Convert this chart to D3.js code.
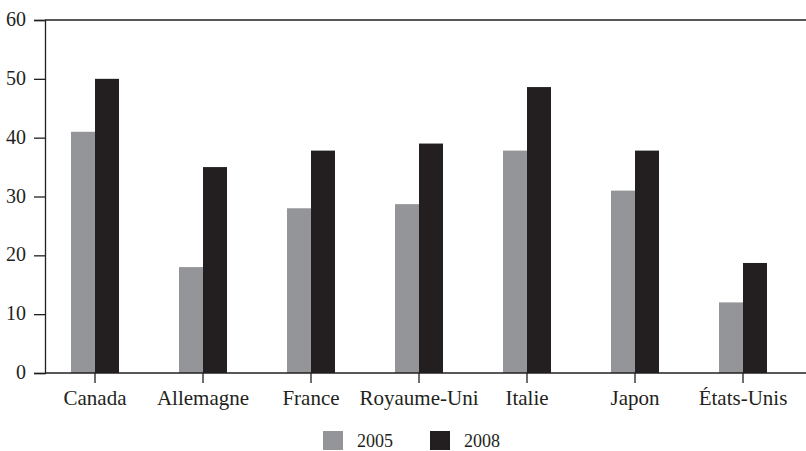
<!DOCTYPE html>
<html>
<head>
<meta charset="utf-8">
<script src="https://cdn.jsdelivr.net/npm/d3@7"></script>
<style>
    body { margin: 0; background: #fff; }
    text { font-family: "Liberation Serif", "DejaVu Serif", serif; fill: #231f20; }
</style>
</head>
<body>
<div id="chart"></div>
<script>
// Data
const countries = ['Canada', 'Allemagne', 'France', 'Royaume-Uni', 'Italie', 'Japon', 'États-Unis'];
const years = ['2005', '2008'];
const values2005 = [41, 18, 28, 28.7, 37.8, 31, 12];
const values2008 = [50, 35, 37.8, 39, 48.6, 37.8, 18.7];
const yTicks = [0, 10, 20, 30, 40, 50, 60];
const colors = ['#939598', '#231f20'];

const series = [values2005, values2008];

function draw() {
    // Dimensions
    let dimensions = {
        width: 806,
        height: 451,
        margin: { top: 20, bottom: 78, left: 45, right: 0 }
    };
    dimensions.ctrWidth = dimensions.width - dimensions.margin.left - dimensions.margin.right;
    dimensions.ctrHeight = dimensions.height - dimensions.margin.top - dimensions.margin.bottom;

    // Scales
    const xScale = d3.scaleBand()
        .domain(countries)
        .range([-4, 752]);

    const innerScale = d3.scaleBand()
        .domain(years)
        .range([xScale.bandwidth() / 2 - 24, xScale.bandwidth() / 2 + 24]);

    const yScale = d3.scaleLinear()
        .domain([0, 60])
        .range([dimensions.ctrHeight, 0]);

    const svg = d3.select('#chart')
        .append('svg')
        .attr('width', dimensions.width)
        .attr('height', dimensions.height);

    const ctr = svg.append('g')
        .attr('transform', `translate(${dimensions.margin.left},${dimensions.margin.top})`);

    // Bars
    const groups = ctr.selectAll('g.country')
        .data(countries)
        .join('g')
        .attr('class', 'country')
        .attr('transform', d => `translate(${xScale(d)},0)`);

    groups.selectAll('rect')
        .data((d, i) => years.map((y, j) => ({ year: y, value: series[j][i] })))
        .join('rect')
        .attr('x', d => innerScale(d.year))
        .attr('width', innerScale.bandwidth())
        .attr('y', d => yScale(d.value))
        .attr('height', d => dimensions.ctrHeight - yScale(d.value))
        .attr('fill', (d, j) => colors[j]);

    // Top frame line
    ctr.append('line')
        .attr('x1', 0)
        .attr('x2', dimensions.ctrWidth)
        .attr('y1', 0)
        .attr('y2', 0)
        .attr('stroke', '#231f20')
        .attr('stroke-width', 1.3);

    // Y axis
    const yAxis = d3.axisLeft(yScale)
        .tickValues(yTicks)
        .tickSize(11)
        .tickPadding(8);

    const yAxisGroup = ctr.append('g').call(yAxis);
    yAxisGroup.select('.domain').attr('stroke', '#231f20').attr('stroke-width', 1.3);
    yAxisGroup.selectAll('.tick line').attr('stroke', '#231f20').attr('stroke-width', 1.3);
    yAxisGroup.selectAll('.tick text')
        .attr('font-size', 20)
        .attr('font-family', '"Liberation Serif", serif')
        .attr('fill', '#231f20')
        .attr('dy', '0.28em');

    // X axis
    const xAxis = d3.axisBottom(xScale)
        .tickSize(10)
        .tickPadding(8)
        .tickSizeOuter(0);

    const xAxisGroup = ctr.append('g')
        .attr('transform', `translate(0,${dimensions.ctrHeight})`)
        .call(xAxis);
    xAxisGroup.select('.domain')
        .attr('d', `M0,0H${dimensions.ctrWidth}`)
        .attr('stroke', '#231f20')
        .attr('stroke-width', 1.3);
    xAxisGroup.selectAll('.tick line').attr('stroke', '#231f20').attr('stroke-width', 1.3);
    xAxisGroup.selectAll('.tick text')
        .attr('font-size', 21)
        .attr('font-family', '"Liberation Serif", serif')
        .attr('fill', '#231f20')
        .attr('dy', '0.66em');

    // Legend
    const legend = svg.append('g')
        .attr('transform', 'translate(323,431)');

    const legendItems = legend.selectAll('g')
        .data(years)
        .join('g')
        .attr('transform', (d, i) => `translate(${i * 107},0)`);

    legendItems.append('rect')
        .attr('width', 20)
        .attr('height', 19)
        .attr('fill', (d, i) => colors[i]);

    legendItems.append('text')
        .attr('x', 34)
        .attr('y', 16)
        .attr('font-size', 18)
        .text(d => d);
}

draw();
</script>
</body>
</html>
